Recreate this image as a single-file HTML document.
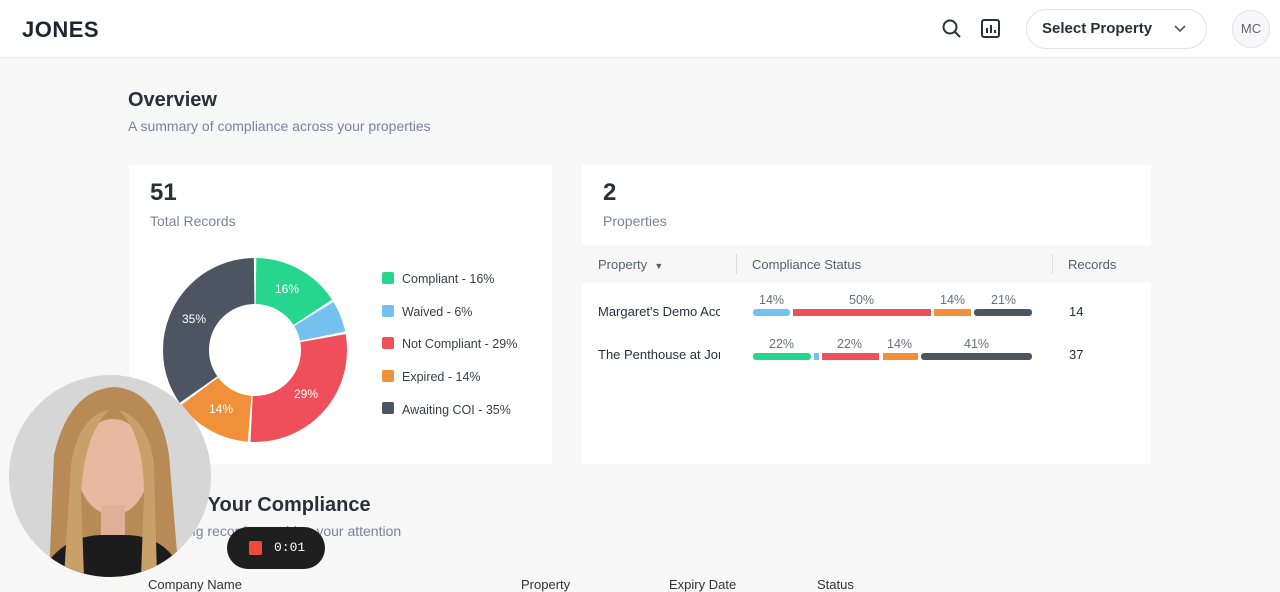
<!DOCTYPE html>
<html><head><style>
*{margin:0;padding:0;box-sizing:border-box}
body{width:1280px;height:586px;overflow:hidden;background:#f7f7f8;font-family:"Liberation Sans",sans-serif;position:relative;color:#2b2f3a}
.a{position:absolute}
.hdr{left:0;top:0;width:1280px;height:58px;background:#fff;border-bottom:1px solid #e8e8ec}
.card{background:#fff}
.leg{font-size:12.5px;color:#3a3d46}
.sq{width:12px;height:12px;border-radius:2px}
.th{font-size:13px;color:#5a5e6a}
.bar{height:7px;border-radius:3px}
.pl{font-size:12.5px;color:#6a6e78}
</style></head><body>
<div class="a hdr"></div>
<div class="a" style="left:22px;top:17px;font-size:22px;font-weight:bold;letter-spacing:0.5px;color:#1f2430">JONES</div>
<svg class="a" style="left:942px;top:19px" width="20" height="20"><circle cx="8" cy="8" r="6.5" fill="none" stroke="#2b2f3a" stroke-width="2"/><line x1="13" y1="13" x2="18" y2="18" stroke="#2b2f3a" stroke-width="2"/></svg>
<svg class="a" style="left:980px;top:18px" width="22" height="22"><rect x="2" y="2" width="17" height="17" rx="2" fill="none" stroke="#2b2f3a" stroke-width="2"/><line x1="7" y1="15" x2="7" y2="10" stroke="#2b2f3a" stroke-width="2"/><line x1="11" y1="15" x2="11" y2="7" stroke="#2b2f3a" stroke-width="2"/><line x1="15" y1="15" x2="15" y2="12" stroke="#2b2f3a" stroke-width="2"/></svg>
<div class="a" style="left:1026px;top:9px;width:181px;height:40px;border:1px solid #e3e3e8;border-radius:20px;background:#fff"></div>
<div class="a" style="left:1042px;top:20px;font-size:15px;font-weight:bold">Select Property</div>
<svg class="a" style="left:1174px;top:24px" width="12" height="10"><polyline points="1,2 6,7 11,2" fill="none" stroke="#555" stroke-width="1.6"/></svg>
<div class="a" style="left:1232px;top:10px;width:38px;height:38px;border:1px solid #e0e0e6;border-radius:50%;background:#f7f7f9;font-size:13px;color:#666;text-align:center;line-height:36px">MC</div>

<div class="a" style="left:128px;top:89px;font-size:20px;font-weight:bold">Overview</div>
<div class="a" style="left:128px;top:118px;font-size:14px;color:#7c80a0">A summary of compliance across your properties</div>

<div class="a card" style="left:129px;top:165px;width:423px;height:299px"></div>
<div class="a" style="left:150px;top:179px;font-size:24px;font-weight:bold">51</div>
<div class="a" style="left:150px;top:213px;font-size:14px;color:#7c80a0">Total Records</div>
<svg class="a" style="left:162px;top:257px" width="186" height="186">
<g transform="translate(93,93) rotate(-90)" fill="none" stroke-width="46">
<circle r="69" stroke="#26d68f" stroke-dasharray="67.4 366.1" stroke-dashoffset="-1"/>
<circle r="69" stroke="#74c0ee" stroke-dasharray="24 409.5" stroke-dashoffset="-70.4"/>
<circle r="69" stroke="#ef4f5a" stroke-dasharray="123.7 309.8" stroke-dashoffset="-96.4"/>
<circle r="69" stroke="#f0913a" stroke-dasharray="58.7 374.8" stroke-dashoffset="-222.1"/>
<circle r="69" stroke="#4d5563" stroke-dasharray="149.7 283.8" stroke-dashoffset="-282.8"/>
</g>
<g font-size="12" fill="#fff" font-family="Liberation Sans" text-anchor="middle">
<text x="125" y="36">16%</text><text x="144" y="141">29%</text><text x="59" y="156">14%</text><text x="32" y="66">35%</text></g>
</svg>
<div class="a sq" style="left:382px;top:272px;background:#26d68f"></div><div class="a leg" style="left:402px;top:272px">Compliant - 16%</div>
<div class="a sq" style="left:382px;top:305px;background:#74c0ee"></div><div class="a leg" style="left:402px;top:305px">Waived - 6%</div>
<div class="a sq" style="left:382px;top:337px;background:#ef4f5a"></div><div class="a leg" style="left:402px;top:337px">Not Compliant - 29%</div>
<div class="a sq" style="left:382px;top:370px;background:#f0913a"></div><div class="a leg" style="left:402px;top:370px">Expired - 14%</div>
<div class="a sq" style="left:382px;top:402px;background:#4d5563"></div><div class="a leg" style="left:402px;top:403px">Awaiting COI - 35%</div>

<div class="a card" style="left:582px;top:165px;width:569px;height:299px"></div>
<div class="a" style="left:603px;top:179px;font-size:24px;font-weight:bold">2</div>
<div class="a" style="left:603px;top:213px;font-size:14px;color:#7c80a0">Properties</div>
<div class="a" style="left:582px;top:245px;width:569px;height:38px;background:#f7f7f8"></div>
<div class="a th" style="left:598px;top:257px">Property &nbsp;<span style="font-size:9px">▼</span></div>
<div class="a" style="left:736px;top:254px;width:1px;height:20px;background:#ddd"></div>
<div class="a th" style="left:752px;top:257px">Compliance Status</div>
<div class="a" style="left:1052px;top:254px;width:1px;height:20px;background:#ddd"></div>
<div class="a th" style="left:1068px;top:257px">Records</div>
<div class="a" style="left:598px;top:304px;font-size:13px;width:122px;overflow:hidden;white-space:nowrap">Margaret's Demo Account</div>
<div class="a" style="left:598px;top:347px;font-size:13px;width:122px;overflow:hidden;white-space:nowrap">The Penthouse at Jones</div>
<div class="a" style="left:1069px;top:304px;font-size:13px">14</div>
<div class="a" style="left:1069px;top:347px;font-size:13px">37</div>
<div class="a bar" style="left:753px;top:309px;width:37px;background:#74c0ee"></div>
<div class="a bar" style="left:793px;top:309px;width:138px;background:#ef4f5a;border-radius:0"></div>
<div class="a bar" style="left:934px;top:309px;width:37px;background:#f0913a;border-radius:0"></div>
<div class="a bar" style="left:974px;top:309px;width:58px;background:#4d5563"></div>
<div class="a pl" style="left:759px;top:293px">14%</div><div class="a pl" style="left:849px;top:293px">50%</div><div class="a pl" style="left:940px;top:293px">14%</div><div class="a pl" style="left:991px;top:293px">21%</div>
<div class="a bar" style="left:753px;top:353px;width:58px;background:#26d68f"></div>
<div class="a bar" style="left:814px;top:353px;width:5px;background:#74c0ee;border-radius:0"></div>
<div class="a bar" style="left:822px;top:353px;width:57px;background:#ef4f5a;border-radius:0"></div>
<div class="a bar" style="left:883px;top:353px;width:35px;background:#f0913a;border-radius:0"></div>
<div class="a bar" style="left:921px;top:353px;width:111px;background:#4d5563"></div>
<div class="a pl" style="left:769px;top:337px">22%</div><div class="a pl" style="left:837px;top:337px">22%</div><div class="a pl" style="left:887px;top:337px">14%</div><div class="a pl" style="left:964px;top:337px">41%</div>

<div class="a" style="left:128px;top:494px;font-size:20px;font-weight:bold">Manage Your Compliance</div>
<div class="a" style="left:128px;top:523px;font-size:14px;color:#7c80a0">Outstanding records requiring your attention</div>
<div class="a" style="left:148px;top:577px;font-size:13px;color:#333">Company Name</div>
<div class="a" style="left:521px;top:577px;font-size:13px;color:#333">Property</div>
<div class="a" style="left:669px;top:577px;font-size:13px;color:#333">Expiry Date</div>
<div class="a" style="left:817px;top:577px;font-size:13px;color:#333">Status</div>

<svg class="a" style="left:9px;top:375px" width="202" height="202">
<defs><clipPath id="c"><circle cx="101" cy="101" r="101"/></clipPath></defs>
<g clip-path="url(#c)">
<rect width="202" height="202" fill="#d6d6d6"/>
<path d="M40 202 L45 80 Q60 15 105 12 Q150 15 160 80 L170 202Z" fill="#b88a55"/>
<ellipse cx="104" cy="92" rx="36" ry="48" fill="#e8b9a0"/>
<rect x="92" y="130" width="24" height="30" fill="#e2b098"/>
<path d="M30 202 Q50 160 95 160 L115 160 Q160 160 175 202Z" fill="#1c1c1c"/>
<path d="M55 202 L62 90 Q70 40 100 35 Q75 60 72 120 L75 202Z" fill="#c9a06a"/>
<path d="M148 202 L145 90 Q140 45 110 35 Q135 60 135 120 L132 202Z" fill="#c9a06a"/>
</g></svg>
<div class="a" style="left:227px;top:527px;width:98px;height:42px;border-radius:21px;background:#1f1f1f"></div>
<div class="a" style="left:249px;top:541px;width:13px;height:14px;background:#ee4a3b;border-radius:2px"></div>
<div class="a" style="left:274px;top:540px;font-size:13px;color:#fff;font-family:'Liberation Mono',monospace">0:01</div>
</body></html>
